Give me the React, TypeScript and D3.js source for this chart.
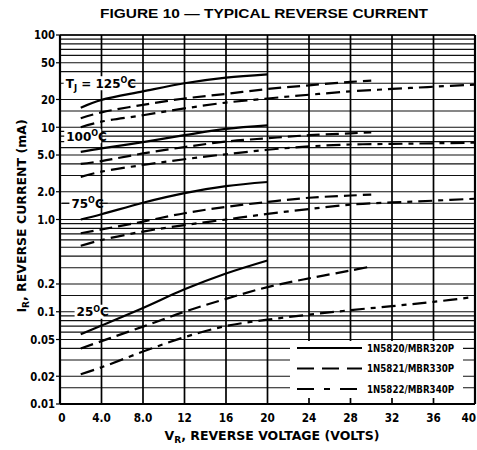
import React from "react";
import * as d3 from "d3";

// reverse voltage points (V)
const voltsShort = [2, 4, 8, 12, 16, 20];
const voltsMid = [2, 4, 8, 12, 16, 20, 24, 28, 30];
const voltsLong = [2, 4, 8, 12, 16, 20, 24, 28, 32, 36, 40];

// 1N5820/MBR320P (solid), mA
const n5820_125 = [16.3, 19.8, 24.5, 30, 34.5, 37.5];
const n5820_100 = [5.4, 5.9, 6.9, 8.2, 9.6, 10.5];
const n5820_75 = [1.0, 1.14, 1.52, 1.93, 2.3, 2.55];
const n5820_25 = [0.057, 0.071, 0.11, 0.175, 0.26, 0.36];

// 1N5821/MBR330P (long dash)
const n5821_125 = [12.5, 14.5, 17.5, 20.5, 23, 26, 28.5, 31, 32];
const n5821_100 = [4.0, 4.3, 5.2, 6.1, 7.0, 7.6, 8.2, 8.6, 8.8];
const n5821_75 = [0.71, 0.78, 0.95, 1.17, 1.37, 1.55, 1.72, 1.82, 1.86];
const n5821_25 = [0.04, 0.048, 0.069, 0.1, 0.138, 0.185, 0.23, 0.28, 0.31];

// 1N5822/MBR340P (long-short dash)
const n5822_125 = [10, 11.5, 13.5, 16, 18.5, 20.5, 22.5, 24.5, 26, 27.5, 29];
const n5822_100 = [2.9, 3.3, 3.9, 4.5, 5.1, 5.7, 6.2, 6.5, 6.6, 6.7, 6.8];
const n5822_75 = [0.52, 0.6, 0.74, 0.87, 1.0, 1.15, 1.3, 1.45, 1.53, 1.6, 1.68];
const n5822_25 = [0.021, 0.025, 0.037, 0.053, 0.07, 0.082, 0.093, 0.104, 0.115, 0.128, 0.145];

const xTicks = [0, 4, 8, 12, 16, 20, 24, 28, 32, 36, 40];
const xTickLabels = ["0", "4.0", "8.0", "12", "16", "20", "24", "28", "32", "36", "40"];
const yTicks = [100, 50, 20, 10, 5, 2, 1, 0.2, 0.1, 0.05, 0.02, 0.01];
const yTickLabels = ["100", "50", "20", "10", "5.0", "2.0", "1.0", "0.2", "0.1", "0.05", "0.02", "0.01"];
const decades = [0.01, 0.1, 1, 10];
const gridSteps = [1, 1.5, 2, 3, 4, 5, 6, 7, 8, 9];

const legendNames = ["1N5820/MBR320P", "1N5821/MBR330P", "1N5822/MBR340P"];

const temps = ["125", "100", "75", "25"];
const tempLevels = [30, 8, 1.5, 0.1];
const tempStartV = [0.55, 0.6, 1.1, 1.6];
const tempBoxW = [67, 37, 30, 29];

const dashes = [null, "13,6", "14,6,5,6"];

const W = 477;
const H = 450;
const FONT = "'DejaVu Sans',Arial,sans-serif";
const SQUEEZE = 0.84; // fake condensed face

export default function App() {
  const x = d3.scaleLinear().domain([0, 40]).range([60, 475]);
  const y = d3.scaleLog().domain([0.01, 100]).range([404, 35]);

  const series = [
    { volts: voltsShort, vals: [n5820_125, n5820_100, n5820_75, n5820_25], dash: dashes[0] },
    { volts: voltsMid, vals: [n5821_125, n5821_100, n5821_75, n5821_25], dash: dashes[1] },
    { volts: voltsLong, vals: [n5822_125, n5822_100, n5822_75, n5822_25], dash: dashes[2] },
  ];

  const line = d3
    .line<[number, number]>()
    .x(d => x(d[0]))
    .y(d => y(d[1]))
    .curve(d3.curveCatmullRom.alpha(0.5));

  const gridY: number[] = [];
  decades.forEach(dec => gridSteps.forEach(s => gridY.push(dec * s)));
  gridY.push(100);

  const rowH = 20.5;

  return (
    <svg
      width={W}
      height={H}
      style={{ position: "absolute", left: 0, top: 0, background: "#fff" }}
      fontFamily={FONT}
      fontWeight="bold"
    >
      <rect width={W} height={H} fill="#fff" />
      <text x={264} y={18} textAnchor="middle" fontSize={13.5} fontFamily="'Liberation Sans',Arial,sans-serif" textLength={328} lengthAdjust="spacingAndGlyphs">
        FIGURE 10 — TYPICAL REVERSE CURRENT
      </text>

      {/* horizontal grid */}
      {gridY.map((v, i) => (
        <line key={"h" + i} x1={x(0)} x2={x(40)} y1={y(v)} y2={y(v)} stroke="#111" strokeWidth={1.2} />
      ))}
      {/* vertical grid */}
      {xTicks.map((v, i) => (
        <line
          key={"v" + i}
          x1={x(v)}
          x2={x(v)}
          y1={y(100)}
          y2={y(0.01)}
          stroke="#000"
          strokeWidth={v === 0 || v === 40 ? 2.2 : 1.7}
        />
      ))}
      <line x1={x(0)} x2={x(40)} y1={y(0.01)} y2={y(0.01)} stroke="#000" strokeWidth={2} />
      <line x1={x(0)} x2={x(40)} y1={y(100)} y2={y(100)} stroke="#000" strokeWidth={1.6} />

      {/* y ticks */}
      {yTicks.map((v, i) => (
        <g key={"yt" + i}>
          <line x1={56} x2={x(0)} y1={y(v)} y2={y(v)} stroke="#000" strokeWidth={1.2} />
          <text transform={`translate(55,${y(v)}) scale(${SQUEEZE},1)`} dy="0.36em" textAnchor="end" fontSize={12}>
            {yTickLabels[i]}
          </text>
        </g>
      ))}
      {/* x ticks */}
      {xTicks.map((v, i) => (
        <text
          key={"xt" + i}
          transform={`translate(${v === 40 ? W - 1 : x(v) + (v === 0 ? 2 : 0)},421.5) scale(${SQUEEZE},1)`}
          textAnchor={v === 40 ? "end" : "middle"}
          fontSize={12.5}
        >
          {xTickLabels[i]}
        </text>
      ))}

      {/* temperature labels */}
      {temps.map((t, i) => {
        const x0 = x(tempStartV[i]);
        const yy = y(tempLevels[i]);
        return (
          <g key={"t" + i}>
            {i === 2 && <line x1={x(0.2)} x2={x(4.6)} y1={yy} y2={yy} stroke="#000" strokeWidth={1.1} />}
            <rect x={x0 - 2} y={yy - 7} width={tempBoxW[i]} height={14} fill="#fff" />
            <text x={x0} y={yy} dy="0.38em" fontSize={12}>
              {i === 0 && (
                <>
                  T<tspan dy={3} fontSize={8.5}>J</tspan>
                  <tspan dy={-3}> = </tspan>
                </>
              )}
              {t}
              <tspan dy={-4.5} fontSize={8}>O</tspan>
              <tspan dy={4.5}>C</tspan>
            </text>
          </g>
        );
      })}

      {/* curves */}
      {series.map((s, si) =>
        s.vals.map((vals, ti) => (
          <path
            key={"c" + si + "-" + ti}
            d={line(s.volts.map((v, k) => [v, vals[k]] as [number, number])) ?? ""}
            fill="none"
            stroke="#000"
            strokeWidth={2.2}
            strokeDasharray={s.dash ?? undefined}
          />
        ))
      )}

      {/* legend */}
      <rect x={290} y={341} width={173} height={57} fill="#fff" />
      {legendNames.map((name, i) => {
        const ly = 348 + i * rowH;
        return (
          <g key={"lg" + i}>
            <line
              x1={297}
              x2={362}
              y1={ly}
              y2={ly}
              stroke="#000"
              strokeWidth={2.2}
              strokeDasharray={dashes[i] === null ? undefined : i === 1 ? "17,8" : "17,10,6,10"}
            />
            <text transform={`translate(367,${ly}) scale(0.79,1)`} dy="0.36em" fontSize={11}>
              {name}
            </text>
          </g>
        );
      })}

      {/* axis titles */}
      <text transform={`translate(26,216) rotate(-90)`} textAnchor="middle" fontSize={12.5}>
        I<tspan dy={3} fontSize={9}>R</tspan>
        <tspan dy={-3}>, REVERSE CURRENT (mA)</tspan>
      </text>
      <text x={272} y={440} textAnchor="middle" fontSize={12.5}>
        V<tspan dy={3} fontSize={9}>R</tspan>
        <tspan dy={-3}>, REVERSE VOLTAGE (VOLTS)</tspan>
      </text>
    </svg>
  );
}
